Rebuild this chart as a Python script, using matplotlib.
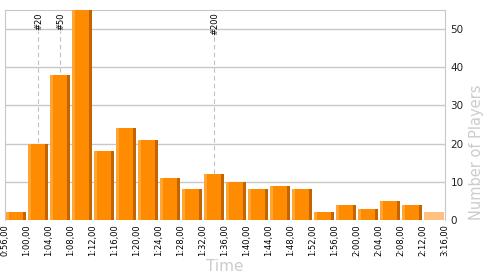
import numpy as np
import matplotlib.pyplot as plt

# finishing time buckets (bar edges) and number of players per bucket
edges = ['0:56,00', '1:00,00', '1:04,00', '1:08,00', '1:12,00', '1:16,00',
         '1:20,00', '1:24,00', '1:28,00', '1:32,00', '1:36,00', '1:40,00',
         '1:44,00', '1:48,00', '1:52,00', '1:56,00', '2:00,00', '2:04,00',
         '2:08,00', '2:12,00', '3:16,00']
players = [2, 20, 38, 55, 18, 24, 21, 11, 8, 12, 10, 8, 9, 8, 2, 4, 3, 5, 4, 2]

# rank markers, placed in bucket units
rank_labels = ['#20', '#50', '#200']
rank_pos = [1.52, 2.52, 9.52]

fig = plt.figure(figsize=(5, 2.75), dpi=100)
ax = fig.add_axes([0.01, 0.2, 0.88, 0.7636])

n = len(players)
x = np.arange(n)
main = players[:-1]
xm = x[:-1]

# 3d-ish bars: light left strip, main body, dark right strip
ax.bar(xm + 0.05, main, width=0.9, align='edge', color='#ff8c00', zorder=3)
ax.bar(xm + 0.05, main, width=0.13, align='edge', color='#ffa534', zorder=4)
ax.bar(xm + 0.84, main, width=0.11, align='edge', color='#c46400', zorder=4)
# last (open ended) bucket drawn pale
ax.bar(x[-1] + 0.05, players[-1], width=0.9, align='edge', color='#ffc080', zorder=3)

for lab, p in zip(rank_labels, rank_pos):
    ax.plot([p, p], [0, 49.5], color='#c0c0c0', lw=0.8, ls=(0, (4, 3)), zorder=2)
    ax.text(p, 54.3, lab, rotation=90, ha='center', va='top', fontsize=6)

ax.set_xlim(0, n)
ax.set_ylim(0, 55)
ax.set_xticks(np.arange(n + 1))
ax.set_xticklabels(edges, rotation=90, fontsize=6)
ax.set_yticks([0, 10, 20, 30, 40, 50])
ax.yaxis.tick_right()
ax.tick_params(axis='y', labelsize=7.5, length=0, pad=4, colors='#222222')
ax.tick_params(axis='x', length=0, pad=3)
ax.grid(axis='y', color='#c8c8c8', lw=1, zorder=0)
for s in ax.spines.values():
    s.set_color('#c8c8c8')
ax.spines['bottom'].set_visible(False)

ax.set_xlabel('Time', fontsize=11, color='#cccccc', labelpad=2)
ax.yaxis.set_label_position('right')
ax.set_ylabel('Number of Players', fontsize=10.5, color='#cccccc',
              labelpad=4, loc='bottom')

fig.savefig('out.png', dpi=100)
